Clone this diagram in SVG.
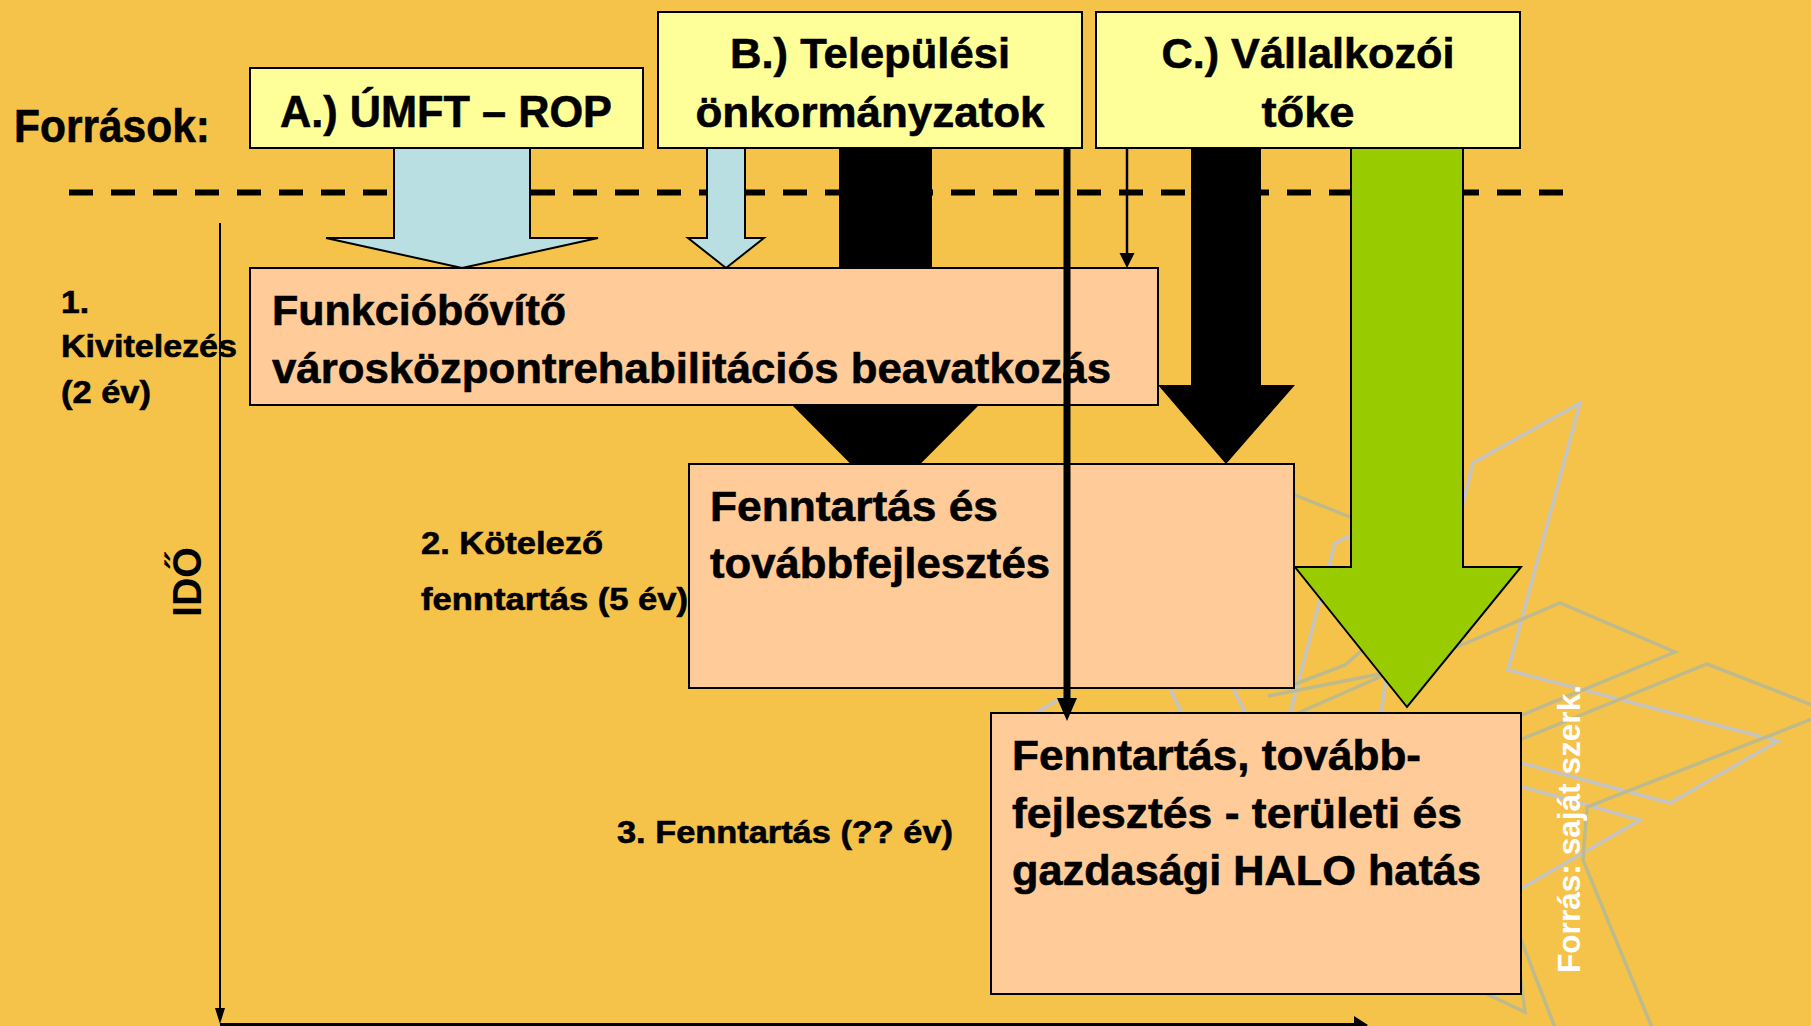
<svg xmlns="http://www.w3.org/2000/svg" width="1811" height="1026" viewBox="0 0 1811 1026">
<defs>
<style>
.t{font-family:'Liberation Sans Narrow','Arial Narrow','Liberation Sans',Arial,sans-serif;font-weight:bold;fill:#000;stroke:#000;stroke-width:0.6}
.w{font-family:'Liberation Sans',Arial,sans-serif;font-weight:bold}
.hdr{fill:#FFFF99;stroke:#000;stroke-width:2}
.box{fill:#FFCC99;stroke:#000;stroke-width:2}
.star{fill:none;stroke:#C4C4C4;stroke-width:3.5;stroke-linejoin:miter}
.star2{fill:none;stroke:#BFBA8C;stroke-width:3.5;stroke-linejoin:miter}
.blue{fill:#B9DFE3;stroke:#000;stroke-width:2;stroke-linejoin:miter}
</style>
</defs>
<rect x="0" y="0" width="1811" height="1026" fill="#F5C34A"/>

<g id="decoration">
<polyline class="star" points="1460,515 1473,463 1580,403 1508,670 1778,741 1670,803 1495,756"/>
<polyline class="star" points="1495,779 1640,820 1510,895"/>
<polyline class="star" points="1365,529 1335,543 1283,740"/>
<polyline class="star" points="1165,678 1186,722"/>
<polyline class="star" points="1228,678 1250,722"/>
<polyline class="star" points="1386,678 1380,722"/>
<polyline class="star" points="1030,716 1072,692"/>
<polyline class="star2" points="1445,652 1560,603 1675,652 1495,726"/>
<polyline class="star2" points="1495,750 1707,664 1830,712 1587,807 1583,860 1653,1030"/>
<polyline class="star2" points="1280,489 1350,517"/>
<polyline class="star2" points="1290,686 1345,665 1368,645"/>
<polyline class="star2" points="1268,696 1390,672"/>
<polyline class="star2" points="1298,713 1382,676"/>
<polyline class="star2" points="1470,986 1525,1012 1518,960"/>
<polyline class="star2" points="1518,932 1556,1030"/>
</g>

<g id="dashed-separator">
<line x1="69" y1="192.5" x2="1565" y2="192.5" stroke="#000" stroke-width="6" stroke-dasharray="24 18"/>
</g>

<g id="connectors">
<polygon id="arrow-A" class="blue" points="394,147 530,147 530,238 598,238 462,268 326,238 394,238"/>
<polygon id="arrow-B-blue" class="blue" points="707,147 745,147 745,238 764,238 726,268 688,238 707,238"/>
<polygon id="arrow-B-black" fill="#000" points="839,147 932,147 932,400 984,400 885.5,499 787,400 839,400"/>
<polygon id="arrow-C-black" fill="#000" points="1191,147 1261,147 1261,385 1295,385 1226,464 1158,385 1191,385"/>
<polygon id="arrow-C-green" fill="#99CC00" stroke="#000" stroke-width="2" points="1351,147 1463,147 1463,567 1521,567 1407,707 1295,567 1351,567"/>
</g>

<g id="node-A">
<rect class="hdr" x="250" y="68" width="393" height="80"/>
<text class="t" x="446" y="127" font-size="45" text-anchor="middle" textLength="332" lengthAdjust="spacingAndGlyphs">A.) ÚMFT – ROP</text>
</g>
<g id="node-B">
<rect class="hdr" x="658" y="12" width="424" height="136"/>
<text class="t" x="870" y="68" font-size="43" text-anchor="middle" textLength="280" lengthAdjust="spacingAndGlyphs">B.) Települési</text>
<text class="t" x="870" y="127" font-size="43" text-anchor="middle" textLength="349" lengthAdjust="spacingAndGlyphs">önkormányzatok</text>
</g>
<g id="node-C">
<rect class="hdr" x="1096" y="12" width="424" height="136"/>
<text class="t" x="1308" y="68" font-size="43" text-anchor="middle" textLength="293" lengthAdjust="spacingAndGlyphs">C.) Vállalkozói</text>
<text class="t" x="1308" y="127" font-size="43" text-anchor="middle" textLength="93" lengthAdjust="spacingAndGlyphs">tőke</text>
</g>

<g id="node-1">
<rect class="box" x="250" y="268" width="908" height="137"/>
<text class="t" x="272" y="325" font-size="42" textLength="294" lengthAdjust="spacingAndGlyphs">Funkcióbővítő</text>
<text class="t" x="272" y="383" font-size="42" textLength="839" lengthAdjust="spacingAndGlyphs">városközpontrehabilitációs beavatkozás</text>
</g>
<g id="node-2">
<rect class="box" x="689" y="464" width="605" height="224"/>
<text class="t" x="710" y="521" font-size="42" textLength="288" lengthAdjust="spacingAndGlyphs">Fenntartás és</text>
<text class="t" x="710" y="578" font-size="42" textLength="340" lengthAdjust="spacingAndGlyphs">továbbfejlesztés</text>
</g>
<g id="node-3">
<rect class="box" x="991" y="713" width="530" height="281"/>
<text class="t" x="1012" y="770" font-size="42" textLength="409" lengthAdjust="spacingAndGlyphs">Fenntartás, tovább-</text>
<text class="t" x="1012" y="828" font-size="42" textLength="450" lengthAdjust="spacingAndGlyphs">fejlesztés - területi és</text>
<text class="t" x="1012" y="885" font-size="42" textLength="469" lengthAdjust="spacingAndGlyphs">gazdasági HALO hatás</text>
</g>

<g id="connectors-lines">
<line x1="1067" y1="148" x2="1067" y2="700" stroke="#000" stroke-width="7"/>
<polygon fill="#000" points="1057,698 1077,698 1067,721"/>
<line x1="1127" y1="148" x2="1127" y2="255" stroke="#000" stroke-width="2.5"/>
<polygon fill="#000" points="1119.5,253 1134.5,253 1127,268"/>
</g>

<g id="time-axes">
<line x1="220" y1="223" x2="220" y2="1010" stroke="#000" stroke-width="2"/>
<polygon fill="#000" points="215,1008 225,1008 220,1024"/>
<line x1="220" y1="1024.5" x2="1356" y2="1024.5" stroke="#000" stroke-width="3"/>
<polygon fill="#000" points="1354,1016 1368,1025 1354,1034"/>
</g>

<g id="labels">
<text class="t" x="14" y="142" font-size="46" textLength="196" lengthAdjust="spacingAndGlyphs">Források:</text>
<text class="t" x="61" y="313" font-size="31" textLength="28" lengthAdjust="spacingAndGlyphs">1.</text>
<text class="t" x="61" y="357" font-size="31" textLength="176" lengthAdjust="spacingAndGlyphs">Kivitelezés</text>
<text class="t" x="61" y="403" font-size="31" textLength="90" lengthAdjust="spacingAndGlyphs">(2 év)</text>
<text class="t" x="421" y="554" font-size="31" textLength="182" lengthAdjust="spacingAndGlyphs">2. Kötelező</text>
<text class="t" x="421" y="610" font-size="31" textLength="267" lengthAdjust="spacingAndGlyphs">fenntartás (5 év)</text>
<text class="t" x="617" y="843" font-size="32" textLength="336" lengthAdjust="spacingAndGlyphs">3. Fenntartás (?? év)</text>
<text class="w" transform="translate(201,617) rotate(-90)" font-size="40" textLength="70" lengthAdjust="spacingAndGlyphs">IDŐ</text>
<text class="w" transform="translate(1580,973) rotate(-90)" font-size="32" fill="#FFFFFF" textLength="288" lengthAdjust="spacingAndGlyphs">Forrás: saját szerk.</text>
</g>
</svg>
